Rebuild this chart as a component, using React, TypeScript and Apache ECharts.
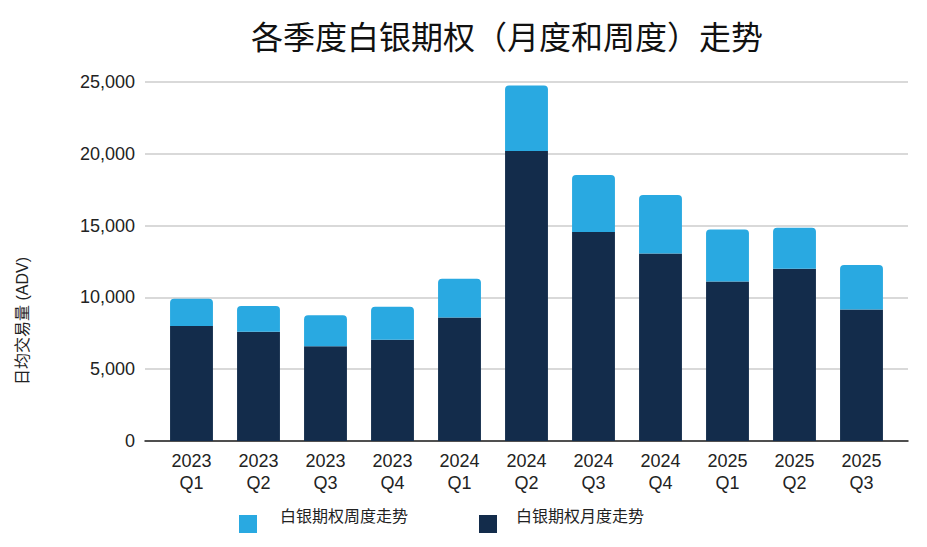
import { useEffect, useRef } from 'react';
import * as echarts from 'echarts';

const quarters = [
  '2023\nQ1', '2023\nQ2', '2023\nQ3', '2023\nQ4',
  '2024\nQ1', '2024\nQ2', '2024\nQ3', '2024\nQ4',
  '2025\nQ1', '2025\nQ2', '2025\nQ3',
];

// 月度 (bottom of stack)
const monthly = [8000, 7600, 6600, 7050, 8600, 20200, 14550, 13050, 11100, 12000, 9150];
// 周度 (added on top)
const weekly = [1900, 1800, 2150, 2300, 2700, 4550, 3980, 4080, 3620, 2850, 3110];

const yTicks = { min: 0, max: 25000, interval: 5000 };

const font = '"Liberation Sans", Arial, "Noto Sans CJK SC", sans-serif';

// square sitting in the lower part of a taller box, so the legend text lines up with its top
const legendIcon = 'path://M0,0 L0,0.01 Z M0,15 L18,15 L18,33 L0,33 Z';

const App = () => {
  const divRef = useRef<HTMLDivElement | null>(null);

  useEffect(() => {
    if (!divRef.current) return;
    const chart = echarts.init(divRef.current, undefined, { renderer: 'svg' });

    const legendText = { fontSize: 16, color: '#222', fontFamily: font };

    chart.setOption({
      animation: false,
      textStyle: { fontFamily: font },
      title: {
        text: '各季度白银期权（月度和周度）走势',
        left: 246,
        top: 14,
        textStyle: { fontSize: 32, fontWeight: 'normal', color: '#111', fontFamily: '"Noto Sans CJK SC", sans-serif' },
      },
      legend: [
        {
          left: 234,
          top: 495,
          icon: legendIcon,
          itemWidth: 18,
          itemHeight: 33,
          data: ['白银期权周度走势'],
          textStyle: { ...legendText, padding: [0, 0, 0, 18] },
        },
        {
          left: 474,
          top: 495,
          icon: legendIcon,
          itemWidth: 18,
          itemHeight: 33,
          data: ['白银期权月度走势'],
          textStyle: { ...legendText, padding: [0, 0, 0, 14] },
        },
      ],
      graphic: [
        {
          type: 'text',
          x: 22,
          y: 321,
          rotation: Math.PI / 2,
          style: {
            text: '日均交易量 (ADV)',
            fontSize: 16,
            fill: '#222',
            fontFamily: font,
            align: 'center',
            verticalAlign: 'middle',
          },
        },
      ],
      grid: [
        // wide grid: gridlines, y labels, baseline
        { left: 145, right: 19, top: 82, bottom: 106 },
        // inner grid: bars and quarter labels
        { left: 158, right: 32, top: 82, bottom: 106 },
      ],
      xAxis: [
        {
          gridIndex: 0,
          type: 'value',
          min: 0,
          max: 1,
          axisLine: { show: true, onZero: false, lineStyle: { color: '#222', width: 1.5 } },
          axisTick: { show: false },
          axisLabel: { show: false },
          splitLine: { show: false },
        },
        {
          gridIndex: 1,
          type: 'category',
          data: quarters,
          axisLine: { show: false },
          axisTick: { show: false },
          axisLabel: { fontSize: 18, color: '#222', lineHeight: 22, margin: 9 },
        },
      ],
      yAxis: [
        {
          gridIndex: 0,
          type: 'value',
          ...yTicks,
          axisLine: { show: false },
          axisTick: { show: false },
          axisLabel: {
            fontSize: 18,
            color: '#222',
            margin: 10,
            formatter: (v: number) => v.toLocaleString('en-US'),
          },
          splitLine: { lineStyle: { color: '#cccccc', width: 1.5 } },
        },
        {
          gridIndex: 1,
          type: 'value',
          ...yTicks,
          show: false,
          splitLine: { show: false },
        },
      ],
      series: [
        {
          name: '白银期权月度走势',
          type: 'bar',
          xAxisIndex: 1,
          yAxisIndex: 1,
          stack: 'total',
          data: monthly,
          barWidth: '64%',
          itemStyle: { color: '#132c4b' },
        },
        {
          name: '白银期权周度走势',
          type: 'bar',
          xAxisIndex: 1,
          yAxisIndex: 1,
          stack: 'total',
          data: weekly,
          barWidth: '64%',
          itemStyle: { color: '#29a9e1', borderRadius: [4, 4, 0, 0] },
        },
      ],
    });

    return () => chart.dispose();
  }, []);

  return (
    <div
      ref={divRef}
      style={{ position: 'fixed', left: 0, top: 0, width: 927, height: 547, background: '#fff' }}
    />
  );
};

export default App;
